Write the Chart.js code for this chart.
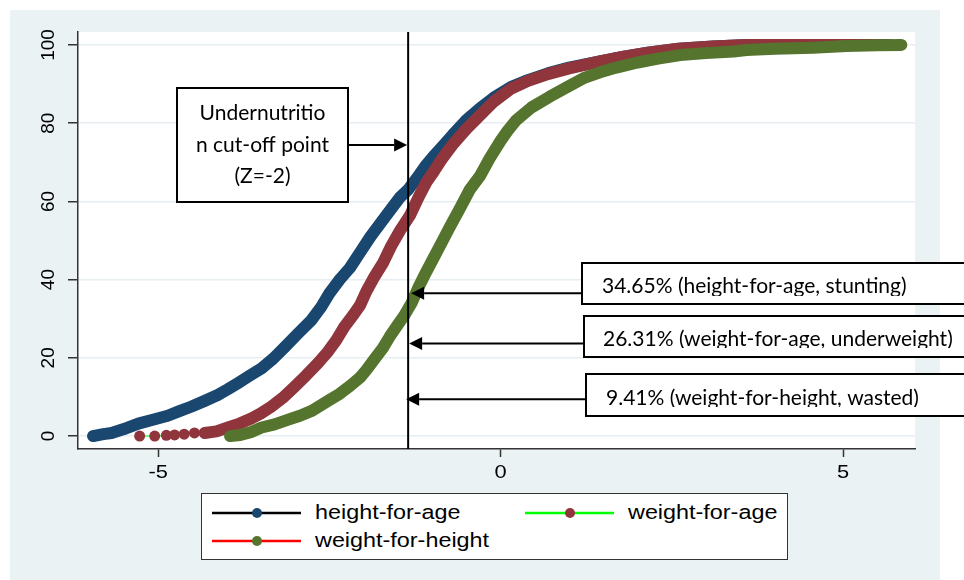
<!DOCTYPE html>
<html>
<head>
<meta charset="utf-8">
<script src="https://cdn.jsdelivr.net/npm/chart.js@4.4.1/dist/chart.umd.min.js"></script>
<style>
  html, body { margin: 0; padding: 0; background: #ffffff; }
  #wrap { position: relative; width: 964px; height: 580px; overflow: hidden; }
  #c { position: absolute; left: 0; top: 0; }
  #legend { position: absolute; left: 201px; top: 493px; width: 585px; height: 65px;
            background: #ffffff; border: 1px solid #333; font-family: 'Liberation Sans', Arial, sans-serif; font-size: 20.5px; color: #000; }
  .item { position: absolute; height: 22px; }
  .item svg { position: absolute; left: 0; top: 5px; }
  .item span { position: absolute; top: -1px; white-space: nowrap; transform: scaleX(1.14); transform-origin: left center; line-height: 22px; }
</style>
</head>
<body>
<div id="wrap">
  <canvas id="c" width="964" height="580"></canvas>
  <div id="legend"></div>
</div>
<script>
// ---------- data ----------
const SERIES_NAMES = ['height-for-age', 'weight-for-age', 'weight-for-height'];
const LINE_COLORS = ['#000000', '#00FF00', '#FF0000'];
const MARKER_COLORS = ['#1A476F', '#90353B', '#55752F'];

const X_TICKS = [-5, 0, 5];
const Y_TICKS = [0, 20, 40, 60, 80, 100];

const CUTOFF_Z = -1.35;

const HFA_X = [-5.95, -5.80, -5.68, -5.50, -5.29, -5.05, -4.86, -4.70, -4.52, -4.32, -4.13, -3.98, -3.84, -3.66, -3.49, -3.32, -3.15, -2.96, -2.76, -2.62, -2.50, -2.35, -2.20, -2.05, -1.90, -1.75, -1.60, -1.47, -1.35, -1.22, -1.10, -0.98, -0.85, -0.70, -0.50, -0.30, -0.10, 0.15, 0.40, 0.70, 1.00, 1.45, 1.80, 2.15, 2.60, 3.10, 3.60, 4.10, 4.60, 5.10, 5.45, 5.68];
const HFA_Y = [0, 0.5, 0.8, 1.8, 3.2, 4.3, 5.2, 6.3, 7.5, 9.0, 10.5, 12.0, 13.5, 15.5, 17.3, 19.8, 22.8, 26.2, 29.7, 33.0, 36.5, 40.0, 43.0, 47.0, 51.0, 54.5, 58.0, 61.0, 63.0, 66.0, 69.0, 71.5, 74.0, 77.0, 80.8, 83.8, 86.5, 89.2, 91.0, 92.8, 94.2, 95.8, 97.0, 98.0, 99.0, 99.6, 100, 100, 100, 100, 100, 100];

const WFA_X = [-5.27, -5.05, -4.88, -4.76, -4.62, -4.47, -4.32, -4.15, -3.98, -3.81, -3.64, -3.50, -3.35, -3.18, -3.01, -2.84, -2.67, -2.52, -2.40, -2.28, -2.15, -2.05, -1.96, -1.85, -1.71, -1.60, -1.47, -1.32, -1.20, -1.08, -0.98, -0.85, -0.70, -0.50, -0.30, -0.10, 0.15, 0.40, 0.70, 1.00, 1.45, 1.80, 2.15, 2.60, 3.10, 3.60, 4.10, 4.60, 5.10, 5.55];
const WFA_Y = [0, 0, 0.2, 0.3, 0.5, 0.8, 0.8, 1.2, 2.2, 3.2, 4.5, 5.8, 7.5, 9.8, 12.6, 15.5, 18.6, 21.6, 24.5, 28.0, 31.0, 33.5, 37.0, 40.5, 44.5, 48.5, 52.5, 56.5, 61.0, 65.0, 67.5, 71.0, 74.5, 78.5, 82.0, 85.5, 88.8, 90.8, 92.6, 94.0, 95.8, 97.0, 98.0, 99.0, 99.6, 100, 100, 100, 100, 100];

const WFH_X = [-3.95, -3.80, -3.65, -3.49, -3.30, -3.10, -2.93, -2.75, -2.52, -2.35, -2.20, -2.05, -1.96, -1.85, -1.72, -1.62, -1.50, -1.40, -1.30, -1.20, -1.10, -0.98, -0.86, -0.74, -0.60, -0.45, -0.30, -0.16, 0.00, 0.10, 0.23, 0.45, 0.72, 1.00, 1.21, 1.45, 1.69, 2.00, 2.30, 2.62, 3.00, 3.40, 3.59, 4.00, 4.56, 5.05, 5.50, 5.85];
const WFH_Y = [0, 0.3, 1.0, 2.2, 3.0, 4.2, 5.2, 6.5, 9.0, 10.8, 12.8, 15.0, 16.9, 19.5, 22.5, 25.4, 28.5, 31.0, 34.0, 38.0, 41.5, 45.5, 49.5, 53.5, 58.0, 63.0, 66.5, 71.0, 75.5, 78.0, 80.8, 84.0, 86.8, 89.5, 91.5, 93.0, 94.2, 95.5, 96.5, 97.4, 97.9, 98.3, 98.7, 99.0, 99.3, 99.7, 99.9, 100];

const CUTOFF_LABEL = ['Undernutritio', 'n cut-off point', '(Z=-2)'];
const NOTE_LABELS = ['34.65% (height-for-age, stunting)', '26.31% (weight-for-age, underweight)', '9.41% (weight-for-height, wasted)'];
const NOTE_ARROW_Y = [36.5, 23.7, 9.4];
const CUTOFF_ARROW_Y = 74.4;

// ---------- layout / style ----------
const BG = '#EAF2F3';
const AXIS = '#333333';
const GRID = '#E6EEF1';
const MARK_R = 6;
const ANN_FONT = "21px Lato, 'Open Sans', sans-serif";
const TICK_FONT_FAMILY = "'Liberation Sans', Arial, sans-serif";

function pts(xs, ys) { return xs.map((x, i) => ({ x: x, y: ys[i] })); }

const seriesData = [pts(HFA_X, HFA_Y), pts(WFA_X, WFA_Y), pts(WFH_X, WFH_Y)];
const BAND_FROM = [0, 6, 0];
const DRAW_ORDER = [2, 1, 0];

const datasets = SERIES_NAMES.map((name, i) => ({
  label: name,
  data: seriesData[i],
  showLine: true,
  borderColor: LINE_COLORS[i],
  borderWidth: 1,
  pointRadius: MARK_R - 0.5,
  pointBackgroundColor: MARKER_COLORS[i],
  pointBorderWidth: 0,
  pointHoverRadius: MARK_R - 0.5,
  order: DRAW_ORDER[i],
  bandFrom: BAND_FROM[i]
}));

const bgPlugin = {
  id: 'bg',
  beforeDraw(chart) {
    const ctx = chart.ctx, a = chart.chartArea;
    ctx.save();
    ctx.fillStyle = '#ffffff';
    ctx.fillRect(0, 0, chart.width, chart.height);
    ctx.fillStyle = BG;
    ctx.fillRect(10, 10, 930, 580);
    ctx.fillStyle = '#ffffff';
    ctx.fillRect(a.left, a.top, a.right - a.left, a.bottom - a.top);
    ctx.restore();
  }
};

const bandPlugin = {
  id: 'band',
  afterDatasetDraw(chart, args) {
    const ds = chart.data.datasets[args.index];
    const pts = args.meta.data;
    const a = chart.chartArea, ctx = chart.ctx;
    ctx.save();
    ctx.beginPath();
    ctx.rect(a.left, a.top - 8, a.right - a.left, a.bottom - a.top + 8);
    ctx.clip();
    ctx.strokeStyle = ds.pointBackgroundColor;
    ctx.lineWidth = MARK_R * 2;
    ctx.lineCap = 'round';
    ctx.lineJoin = 'round';
    ctx.beginPath();
    for (let i = ds.bandFrom; i < pts.length; i++) {
      const p = pts[i];
      if (i === ds.bandFrom) ctx.moveTo(p.x, p.y); else ctx.lineTo(p.x, p.y);
    }
    ctx.stroke();
    ctx.restore();
  }
};

function arrow(ctx, x0, y, tip) {
  const dir = tip > x0 ? 1 : -1;
  const L = 13, H = 6.5;
  ctx.beginPath();
  ctx.moveTo(x0, y);
  ctx.lineTo(tip - dir * L, y);
  ctx.stroke();
  ctx.beginPath();
  ctx.moveTo(tip, y);
  ctx.lineTo(tip - dir * L, y - H);
  ctx.lineTo(tip - dir * L, y + H);
  ctx.closePath();
  ctx.fill();
}

const annPlugin = {
  id: 'ann',
  afterDraw(chart) {
    const ctx = chart.ctx, xs = chart.scales.x, ys = chart.scales.y, a = chart.chartArea;
    const lx = xs.getPixelForValue(CUTOFF_Z);
    ctx.save();
    // tick labels
    ctx.fillStyle = '#000';
    ctx.font = '19px ' + TICK_FONT_FAMILY;
    ctx.textAlign = 'center';
    ctx.textBaseline = 'middle';
    Y_TICKS.forEach(v => {
      ctx.save();
      ctx.translate(48.5, ys.getPixelForValue(v));
      ctx.rotate(-Math.PI / 2);
      ctx.fillText(String(v), 0, 0);
      ctx.restore();
    });
    X_TICKS.forEach(v => {
      ctx.save();
      ctx.translate(xs.getPixelForValue(v), 473);
      ctx.scale(1.15, 1);
      ctx.fillText(String(v), 0, 0);
      ctx.restore();
    });
    // cut-off vertical line
    ctx.strokeStyle = '#000';
    ctx.lineWidth = 2;
    ctx.beginPath();
    ctx.moveTo(lx, a.top);
    ctx.lineTo(lx, a.bottom);
    ctx.stroke();

    ctx.fillStyle = '#000';
    ctx.lineWidth = 2;
    // cut-off label box
    const b0 = { x: 177, y: 88, w: 171, h: 114 };
    ctx.fillStyle = '#fff';
    ctx.fillRect(b0.x, b0.y, b0.w, b0.h);
    ctx.strokeRect(b0.x, b0.y, b0.w, b0.h);
    ctx.fillStyle = '#000';
    ctx.font = ANN_FONT;
    ctx.textAlign = 'center';
    ctx.textBaseline = 'alphabetic';
    const base0 = [120, 152, 183];
    CUTOFF_LABEL.forEach((t, i) => ctx.fillText(t, b0.x + b0.w / 2, base0[i]));
    arrow(ctx, b0.x + b0.w, ys.getPixelForValue(CUTOFF_ARROW_Y), lx - 1);

    // prevalence boxes
    const boxes = [
      { x: 582, y: 263, h: 41, tx: 602, base: 293, clip: 296, tipOff: 3 },
      { x: 584, y: 316, h: 41, tx: 603, base: 346, clip: 348, tipOff: 1 },
      { x: 586, y: 374, h: 42, tx: 606, base: 405, clip: 407, tipOff: -2 }
    ];
    boxes.forEach((b, i) => {
      ctx.fillStyle = '#fff';
      ctx.fillRect(b.x, b.y, 420, b.h);
      ctx.strokeRect(b.x, b.y, 420, b.h);
      ctx.save();
      ctx.beginPath();
      ctx.rect(b.x, b.y, 420, b.clip - b.y);
      ctx.clip();
      ctx.fillStyle = '#000';
      ctx.textAlign = 'left';
      ctx.fillText(NOTE_LABELS[i], b.tx, b.base);
      ctx.restore();
      ctx.fillStyle = '#000';
      arrow(ctx, b.x, ys.getPixelForValue(NOTE_ARROW_Y[i]), lx + b.tipOff);
    });
    ctx.restore();
  }
};

const chart = new Chart(document.getElementById('c'), {
  type: 'scatter',
  data: { datasets: datasets },
  options: {
    responsive: false,
    devicePixelRatio: 1,
    animation: false,
    events: [],
    layout: { padding: { left: 0, top: 32, right: 49, bottom: 0 } },
    plugins: { legend: { display: false }, tooltip: { enabled: false } },
    scales: {
      x: {
        type: 'linear', min: -6.17, max: 6.05,
        afterBuildTicks: s => { s.ticks = X_TICKS.map(v => ({ value: v })); },
        afterFit: s => { s.height = 131; },
        ticks: { display: false },
        grid: { drawOnChartArea: false, drawTicks: true, tickLength: 8, tickColor: AXIS, tickWidth: 1.5 },
        border: { color: AXIS, width: 1.5 }
      },
      y: {
        type: 'linear', min: -3.3, max: 103.3,
        afterBuildTicks: s => { s.ticks = Y_TICKS.map(v => ({ value: v })); },
        afterFit: s => { s.width = 78; },
        ticks: { display: false },
        grid: { color: GRID, lineWidth: 1.5, drawTicks: true, tickLength: 10, tickColor: AXIS, tickWidth: 1.5 },
        border: { color: AXIS, width: 1.5 }
      }
    }
  },
  plugins: [bgPlugin, bandPlugin, annPlugin]
});

// ---------- legend (built from the series arrays) ----------
const legend = document.getElementById('legend');
const LEG_POS = [[10, 8], [323, 8], [10, 36]];
SERIES_NAMES.forEach((name, i) => {
  const d = document.createElement('div');
  d.className = 'item';
  d.style.left = LEG_POS[i][0] + 'px';
  d.style.top = LEG_POS[i][1] + 'px';
  d.innerHTML = '<svg width="90" height="12"><line x1="0" y1="6" x2="89" y2="6" stroke="' + LINE_COLORS[i] +
    '" stroke-width="2.5"/><circle cx="45" cy="6" r="5" fill="' + MARKER_COLORS[i] + '"/></svg><span style="left:103px">' + name + '</span>';
  legend.appendChild(d);
});
</script>
</body>
</html>
